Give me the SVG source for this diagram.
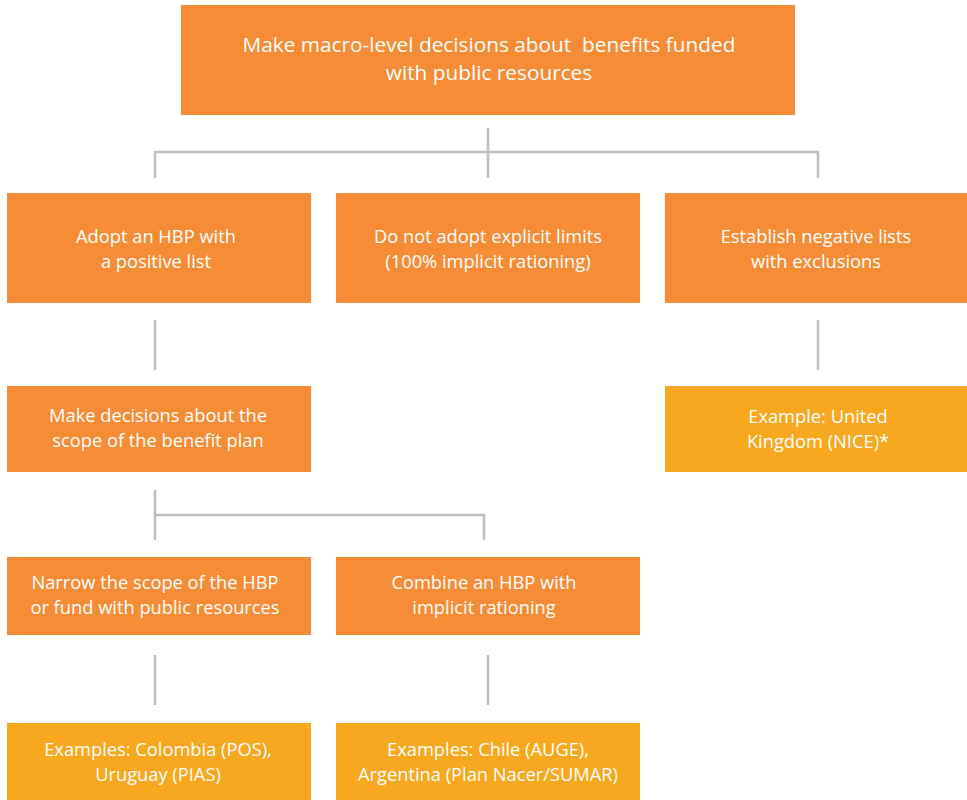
<svg xmlns="http://www.w3.org/2000/svg" width="967" height="800" viewBox="0 0 967 800">
<style>
.o{fill:#F68D36}
.y{fill:#F7A81E}
text{font-family:"Open Sans","Liberation Sans",sans-serif;font-size:18.3px;fill:#FFFFFF;text-anchor:middle}
.t{font-size:20.8px}
.c{stroke:#BDBDBD;stroke-width:2.5;fill:none}
</style>
<rect width="967" height="800" fill="#FFFFFF"/>
<g id="connectors">
<path class="c" d="M488 128V178M155 178V152H818V178"/>
<path class="c" d="M155 320V370M818 320V370"/>
<path class="c" d="M155 490V540M155 515H484V540"/>
<path class="c" d="M155 655V705M488 655V705"/>
</g>
<g id="n-root"><rect class="o" x="181" y="5" width="614" height="110"/>
<text class="t" x="489" y="52">Make macro-level decisions about&#160; benefits funded</text>
<text class="t" x="489" y="80">with public resources</text></g>
<g id="n-hbp"><rect class="o" x="7" y="193" width="304" height="110"/>
<text x="156" y="243">Adopt an HBP with</text>
<text x="156" y="268">a positive list</text></g>
<g id="n-nolimits"><rect class="o" x="336" y="193" width="304" height="110"/>
<text x="488" y="243">Do not adopt explicit limits</text>
<text x="488" y="268">(100% implicit rationing)</text></g>
<g id="n-negative"><rect class="o" x="665" y="193" width="302" height="110"/>
<text x="816" y="243">Establish negative lists</text>
<text x="816" y="268">with exclusions</text></g>
<g id="n-scope"><rect class="o" x="7" y="386" width="304" height="86"/>
<text x="158" y="422">Make decisions about the</text>
<text x="158" y="447">scope of the benefit plan</text></g>
<g id="n-uk"><rect class="y" x="665" y="386" width="302" height="86"/>
<text x="818" y="423">Example: United</text>
<text x="818" y="448">Kingdom (NICE)*</text></g>
<g id="n-narrow"><rect class="o" x="7" y="557" width="304" height="78"/>
<text x="155" y="589">Narrow the scope of the HBP</text>
<text x="155" y="614">or fund with public resources</text></g>
<g id="n-combine"><rect class="o" x="336" y="557" width="304" height="78"/>
<text x="484" y="589">Combine an HBP with</text>
<text x="484" y="614">implicit rationing</text></g>
<g id="n-colombia"><rect class="y" x="7" y="723" width="304" height="77"/>
<text x="158" y="756">Examples: Colombia (POS),</text>
<text x="158" y="781">Uruguay (PIAS)</text></g>
<g id="n-chile"><rect class="y" x="336" y="723" width="304" height="77"/>
<text x="488" y="756">Examples: Chile (AUGE),</text>
<text x="488" y="781">Argentina (Plan Nacer/SUMAR)</text></g>
</svg>
